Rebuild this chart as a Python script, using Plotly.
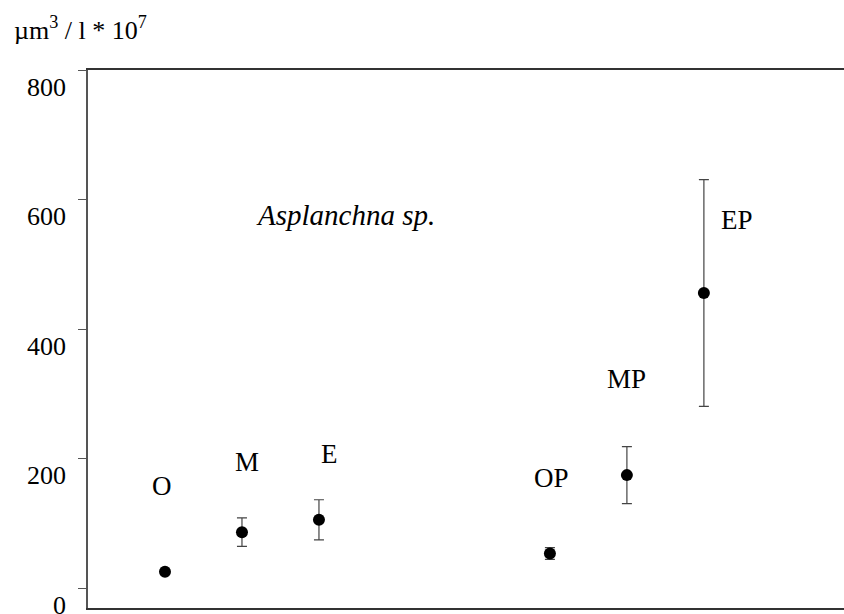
import plotly.graph_objects as go

# stages and biovolume (um3 / l * 10^7)
stages = ['O', 'M', 'E', 'OP', 'MP', 'EP']
positions = [1, 2, 3, 6, 7, 8]
means = [26, 87, 106, 54, 175, 456]
errors = [0, 22, 31, 9, 44, 175]

y_ticks = [0, 200, 400, 600, 800]

# label placement (data units)
label_x = [0.96, 2.07, 3.14, 6.02, 7.0, 8.43]
label_y = [158, 195, 208, 171, 323, 569]

serif = 'Liberation Serif, Times New Roman, serif'

fig = go.Figure()
fig.add_trace(go.Scatter(
    x=positions, y=means, mode='markers',
    marker=dict(color='black', size=12),
    error_y=dict(type='data', array=errors, visible=True,
                 color='#444', thickness=1.2, width=5),
    showlegend=False, hoverinfo='skip'))

for s, lx, ly in zip(stages, label_x, label_y):
    fig.add_annotation(x=lx, y=ly, text=s, showarrow=False,
                       font=dict(family=serif, size=27, color='black'))

fig.add_annotation(x=3.34, y=576, text='<i>Asplanchna sp.</i>', showarrow=False,
                   font=dict(family=serif, size=29, color='black'))

fig.add_annotation(xref='paper', yref='paper', x=-0.1, y=1.078, xanchor='left', yanchor='middle',
                   text='\u00b5m<sup>3</sup> / l * 10<sup>7</sup>', showarrow=False,
                   font=dict(family=serif, size=26, color='black'))

# tick labels sit a little below their tick marks in the original
for t in y_ticks:
    fig.add_annotation(xref='paper', x=-0.0265, y=t, xanchor='right', yshift=-17,
                       text=str(t), showarrow=False,
                       font=dict(family=serif, size=26, color='black'))

fig.update_layout(
    width=844, height=614,
    margin=dict(l=88, r=0, t=70, b=6),
    plot_bgcolor='white', paper_bgcolor='white',
    font=dict(family=serif, size=26, color='black'),
    xaxis=dict(range=[0, 9.82], showgrid=False, zeroline=False, showticklabels=False,
               ticks='', showline=True, mirror=True, linecolor='#333', linewidth=1.5),
    yaxis=dict(range=[-30, 800], showgrid=False, zeroline=False, tickvals=y_ticks,
               showticklabels=False, ticks='outside', ticklen=8, tickcolor='#555',
               showline=True, linecolor='#555', linewidth=1.5),
)

fig.write_html("out.html", post_script="document.body.style.margin='0';",
               config={'displayModeBar': False})
